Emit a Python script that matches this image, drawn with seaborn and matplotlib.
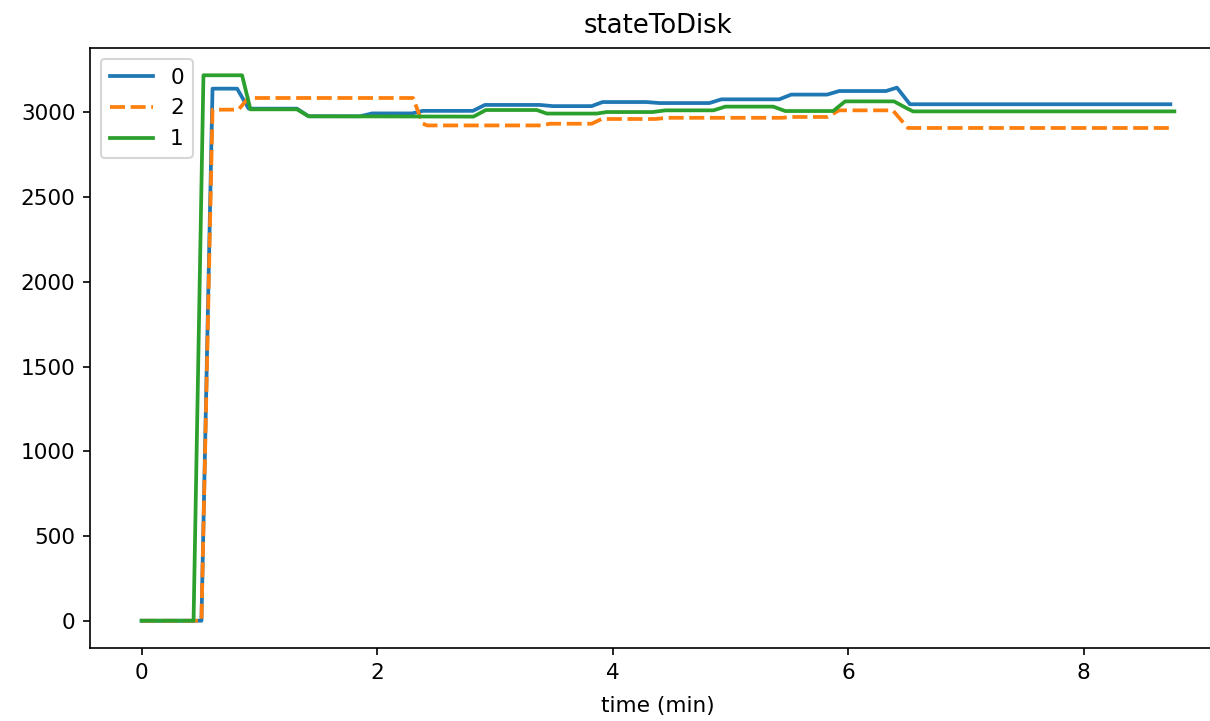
import numpy as np
import pandas as pd
import matplotlib
matplotlib.use("Agg")
import matplotlib.pyplot as plt
import seaborn as sns

# Series "0"
t0 = [0.0, 0.508, 0.602, 0.811, 0.909, 1.319, 1.418, 1.856, 1.958, 2.297, 2.390,
      2.814, 2.915, 3.381, 3.492, 3.822, 3.915, 4.288, 4.398, 4.822, 4.924,
      5.415, 5.517, 5.822, 5.924, 6.322, 6.415, 6.525, 8.737]
v0 = [0, 0, 3140, 3140, 3022, 3022, 2977, 2977, 2994, 2994, 3009,
      3009, 3044, 3044, 3037, 3037, 3061, 3061, 3055, 3055, 3077,
      3077, 3105, 3105, 3126, 3126, 3146, 3048, 3048]

# Series "2"
t2 = [0.0, 0.508, 0.602, 0.822, 0.907, 2.305, 2.386, 2.424, 3.398, 3.466,
      3.822, 3.907, 4.364, 4.466, 5.441, 5.517, 5.822, 5.924, 6.380, 6.508, 8.729]
v2 = [0, 0, 3016, 3016, 3085, 3085, 2935, 2923, 2923, 2933,
      2933, 2961, 2961, 2968, 2968, 2973, 2973, 3012, 3012, 2908, 2908]

# Series "1"
t1 = [0.0, 0.441, 0.525, 0.853, 0.924, 1.319, 1.418, 2.818, 2.924, 3.356,
      3.441, 3.864, 3.949, 4.339, 4.449, 4.856, 4.958, 5.364, 5.466, 5.873,
      5.975, 6.390, 6.483, 6.551, 8.771]
v1 = [0, 0, 3219, 3219, 3018, 3018, 2977, 2975, 3014, 3014,
      2993, 2993, 3002, 3002, 3012, 3012, 3034, 3034, 3008, 3008,
      3065, 3065, 3030, 3006, 3006]

series_order = ["0", "2", "1"]

df = pd.concat([
    pd.DataFrame({"time (min)": t0, "value": v0, "id": "0"}),
    pd.DataFrame({"time (min)": t2, "value": v2, "id": "2"}),
    pd.DataFrame({"time (min)": t1, "value": v1, "id": "1"}),
], ignore_index=True)

plt.rcParams.update({
    "font.size": 10.4,
    "xtick.labelsize": 10.4,
    "ytick.labelsize": 10.4,
    "axes.titlesize": 12.4,
    "axes.labelsize": 10.4,
    "legend.fontsize": 10.4,
})

dpi = 150
fig = plt.figure(figsize=(1210 / dpi, 721 / dpi), dpi=dpi)
# the axes of the reference extends slightly past the right edge of the image
ax = fig.add_axes([90 / 1210, 1 - 648 / 721, (1226 - 90) / 1210, (648 - 48) / 721])

palette = {"0": "#1f77b4", "2": "#ff7f0e", "1": "#2ca02c"}
dashes = {"0": "", "2": (4, 1.5), "1": ""}
sns.lineplot(data=df, x="time (min)", y="value", hue="id", style="id",
             hue_order=series_order, style_order=series_order,
             palette=palette, dashes=dashes, estimator=None, sort=False,
             linewidth=1.8, ax=ax)

handles, labels = ax.get_legend_handles_labels()
ax.legend(handles, labels, loc="upper left")
ax.set_title("stateToDisk", pad=7)
ax.set_ylabel("")
ax.set_xlabel("time (min)", labelpad=6.5)
ax.set_xticks([0, 2, 4, 6, 8])
ax.set_yticks([0, 500, 1000, 1500, 2000, 2500, 3000])

fig.savefig("out.png", dpi=dpi)
